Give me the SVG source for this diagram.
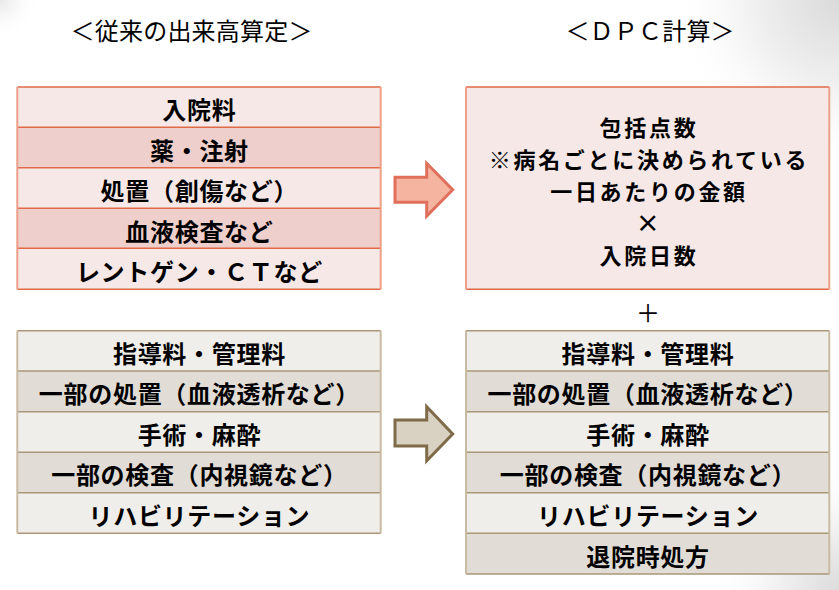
<svg xmlns="http://www.w3.org/2000/svg" width="839" height="590" viewBox="0 0 839 590">
<defs>
<radialGradient id="gTR" cx="839" cy="0" r="170" gradientUnits="userSpaceOnUse">
<stop offset="0" stop-color="#dadada"/>
<stop offset="0.5" stop-color="#f0f0f0"/>
<stop offset="1" stop-color="#ffffff" stop-opacity="0"/>
</radialGradient>
<radialGradient id="gBR" cx="839" cy="590" r="130" gradientUnits="userSpaceOnUse">
<stop offset="0" stop-color="#dcdcdc"/>
<stop offset="0.5" stop-color="#f2f2f2"/>
<stop offset="1" stop-color="#ffffff" stop-opacity="0"/>
</radialGradient>
<radialGradient id="gTL" cx="0" cy="0" r="40" gradientUnits="userSpaceOnUse">
<stop offset="0" stop-color="#e8e8e8"/>
<stop offset="1" stop-color="#ffffff" stop-opacity="0"/>
</radialGradient>
</defs>
<style>
text{font-family:"Noto Sans CJK JP","Noto Sans CJK SC",sans-serif;fill:#000;text-anchor:middle}
.t{font-size:24px;font-weight:700;letter-spacing:0.7px}
.m{font-size:22px;font-weight:700;letter-spacing:2.7px}
.h{font-size:24px;font-weight:400;letter-spacing:0.2px}
.rl{fill:#F6E8E6}
.rd{fill:#EFCFCB}
.bl{fill:#F0EEEA}
.bd{fill:#E1DCD5}
.hr{stroke:#E06A48;stroke-width:1.5}
.vr{stroke:#EE9F88;stroke-width:2}
.hb{stroke:#A89878;stroke-width:1.5}
.vb{stroke:#C9BBA3;stroke-width:2}
.ap{fill:#F4B4A0;stroke:#E0705C;stroke-width:3}
.ab{fill:#D9D2C3;stroke:#7F6B4A;stroke-width:3}
</style>
<rect width="839" height="590" fill="#fff"/>
<rect width="839" height="590" fill="url(#gTR)"/>
<rect width="839" height="590" fill="url(#gBR)"/>
<rect width="60" height="60" fill="url(#gTL)"/>

<g id="title-left"><text class="h" x="191.6" y="39.5">＜従来の出来高算定＞</text></g>
<g id="title-right"><text class="h" x="650.1" y="39.5">＜ＤＰＣ計算＞</text></g>

<g id="left-top-table">
<g id="lt1"><rect class="rl" x="17.3" y="87" width="363.4" height="40.3"/><text class="t" x="199.4" y="119.3">入院料</text></g>
<g id="lt2"><rect class="rd" x="17.3" y="127.3" width="363.4" height="40.4"/><text class="t" x="199.4" y="159.8">薬・注射</text></g>
<g id="lt3"><rect class="rl" x="17.3" y="167.7" width="363.4" height="40.6"/><text class="t" x="199.4" y="200.3">処置（創傷など）</text></g>
<g id="lt4"><rect class="rd" x="17.3" y="208.3" width="363.4" height="40"/><text class="t" x="199.4" y="240.6">血液検査など</text></g>
<g id="lt5"><rect class="rl" x="17.3" y="248.3" width="363.4" height="41"/><text class="t" x="199.4" y="281.1">レントゲン・ＣＴなど</text></g>
<path class="hr" d="M17.3 87H380.7M17.3 127.3H380.7M17.3 167.7H380.7M17.3 208.3H380.7M17.3 248.3H380.7M17.3 289.3H380.7"/>
<path class="vr" d="M17.3 87V289.3M380.7 87V289.3"/>
</g>

<g id="right-top-box">
<rect class="rl" x="466" y="87" width="363.3" height="202.3"/>
<path class="hr" d="M466 87H829.3M466 289.3H829.3"/>
<path class="vr" d="M466 87V289.3M829.3 87V289.3"/>
<text class="m" x="649" y="136.2">包括点数</text>
<text class="m" x="649" y="168.2">※病名ごとに決められている</text>
<text class="m" x="649" y="200.2">一日あたりの金額</text>
<text class="m" x="649" y="232.2" style="font-size:24px">×</text>
<text class="m" x="649" y="264.2">入院日数</text>
</g>

<g id="plus"><text x="648" y="322" style="font-size:24px;font-weight:400">＋</text></g>

<g id="left-bottom-table">
<g id="lb1"><rect class="bl" x="17.3" y="330.7" width="363.4" height="40.3"/><text class="t" x="199.4" y="362.8">指導料・管理料</text></g>
<g id="lb2"><rect class="bd" x="17.3" y="371" width="363.4" height="40.7"/><text class="t" x="199.4" y="403.3">一部の処置（血液透析など）</text></g>
<g id="lb3"><rect class="bl" x="17.3" y="411.7" width="363.4" height="40.6"/><text class="t" x="199.4" y="443.8">手術・麻酔</text></g>
<g id="lb4"><rect class="bd" x="17.3" y="452.3" width="363.4" height="40.4"/><text class="t" x="199.4" y="484.3">一部の検査（内視鏡など）</text></g>
<g id="lb5"><rect class="bl" x="17.3" y="492.7" width="363.4" height="40.6"/><text class="t" x="199.4" y="524.8">リハビリテーション</text></g>
<path class="hb" d="M17.3 330.7H380.7M17.3 371H380.7M17.3 411.7H380.7M17.3 452.3H380.7M17.3 492.7H380.7M17.3 533.3H380.7"/>
<path class="vb" d="M17.3 330.7V533.3M380.7 330.7V533.3"/>
</g>

<g id="right-bottom-table">
<g id="rb1"><rect class="bl" x="466" y="330.7" width="363.3" height="40.3"/><text class="t" x="648" y="362.8">指導料・管理料</text></g>
<g id="rb2"><rect class="bd" x="466" y="371" width="363.3" height="40.7"/><text class="t" x="648" y="403.3">一部の処置（血液透析など）</text></g>
<g id="rb3"><rect class="bl" x="466" y="411.7" width="363.3" height="40.6"/><text class="t" x="648" y="443.8">手術・麻酔</text></g>
<g id="rb4"><rect class="bd" x="466" y="452.3" width="363.3" height="40.4"/><text class="t" x="648" y="484.3">一部の検査（内視鏡など）</text></g>
<g id="rb5"><rect class="bl" x="466" y="492.7" width="363.3" height="40.6"/><text class="t" x="648" y="524.8">リハビリテーション</text></g>
<g id="rb6"><rect class="bd" x="466" y="533.3" width="363.3" height="40.7"/><text class="t" x="648" y="565.8">退院時処方</text></g>
<path class="hb" d="M466 330.7H829.3M466 371H829.3M466 411.7H829.3M466 452.3H829.3M466 492.7H829.3M466 533.3H829.3M466 574H829.3"/>
<path class="vb" d="M466 330.7V574M829.3 330.7V574"/>
</g>

<g id="connectors">
<path class="ap" d="M395 177.3H426.7V163.3L452.7 189.7L426.7 216V202.3H395Z"/>
<path class="ab" d="M395 420H426.7V406.7L452.7 434L426.7 460.7V446H395Z"/>
</g>
</svg>
